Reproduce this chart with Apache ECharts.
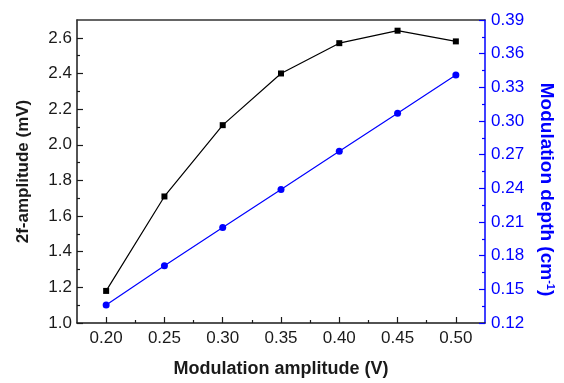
<!DOCTYPE html>
<html>
<head>
<meta charset="utf-8">
<script src="https://cdn.jsdelivr.net/npm/echarts@6/dist/echarts.min.js"></script>
<style>html,body{margin:0;padding:0;background:#fff}#c{width:564px;height:383px}</style>
</head>
<body>
<div id="c"></div>
<script>
// Data
var modAmplitude = [0.20, 0.25, 0.30, 0.35, 0.40, 0.45, 0.50];
var amp2f = [1.18, 1.71, 2.11, 2.40, 2.57, 2.64, 2.58];
var modDepth = [0.136, 0.171, 0.205, 0.239, 0.273, 0.307, 0.341];
// Tick values
var xMajorTicks = [0.20, 0.25, 0.30, 0.35, 0.40, 0.45, 0.50];
var xMinorTicks = [0.225, 0.275, 0.325, 0.375, 0.425, 0.475];
var yLeftMajorTicks = [1.0, 1.2, 1.4, 1.6, 1.8, 2.0, 2.2, 2.4, 2.6];
var yLeftMinorTicks = [1.1, 1.3, 1.5, 1.7, 1.9, 2.1, 2.3, 2.5];

var FONT = "'Liberation Sans', Arial, sans-serif";
var BLUE = '#0000ff';
var BLACK = '#1a1a1a';

var chart = echarts.init(document.getElementById('c'), null, {renderer: 'canvas'});
chart.setOption({
  animation: false,
  backgroundColor: '#fff',
  grid: {left: 77, right: 72, top: 20, bottom: 56, containLabel: false},
  xAxis: [
    {
      type: 'value', position: 'bottom', min: 0.175, max: 0.525,
      name: 'Modulation amplitude (V)', nameLocation: 'middle', nameGap: 37,
      nameTextStyle: {fontFamily: FONT, fontWeight: 'bold', fontSize: 18, color: BLACK},
      axisLine: {show: true, lineStyle: {color: BLACK, width: 1.5}},
      axisTick: {show: true, inside: true, length: 6, customValues: xMajorTicks, lineStyle: {color: BLACK, width: 1.2}},
      axisLabel: {show: true, customValues: xMajorTicks, margin: 7, fontFamily: FONT, fontSize: 17, color: BLACK,
        formatter: function (v) { return v.toFixed(2); }},
      splitLine: {show: false}
    },
    {
      type: 'value', position: 'bottom', min: 0.175, max: 0.525,
      axisLine: {show: false},
      axisTick: {show: true, inside: true, length: 3, customValues: xMinorTicks, lineStyle: {color: BLACK, width: 1.2}},
      axisLabel: {show: false},
      splitLine: {show: false}
    },
    {
      type: 'value', position: 'top', min: 0.175, max: 0.525,
      axisLine: {show: true, lineStyle: {color: '#333', width: 1.5}},
      axisTick: {show: false}, axisLabel: {show: false}, splitLine: {show: false}
    }
  ],
  yAxis: [
    {
      type: 'value', position: 'left', min: 1.0, max: 2.7,
      name: '2f-amplitude (mV)', nameLocation: 'middle', nameGap: 45,
      nameTextStyle: {fontFamily: FONT, fontWeight: 'bold', fontSize: 17, color: BLACK},
      axisLine: {show: true, lineStyle: {color: BLACK, width: 1.5}},
      axisTick: {show: true, inside: true, length: 6, customValues: yLeftMajorTicks, lineStyle: {color: BLACK, width: 1.2}},
      axisLabel: {show: true, customValues: yLeftMajorTicks, margin: 5, fontFamily: FONT, fontSize: 17, color: BLACK,
        formatter: function (v) { return v.toFixed(1); }},
      splitLine: {show: false}
    },
    {
      type: 'value', position: 'right', min: 0.12, max: 0.39, interval: 0.03,
      name: 'Modulation depth (cm{sup|-1})', nameLocation: 'middle', nameGap: 52, nameRotate: -90,
      nameTextStyle: {fontFamily: FONT, fontWeight: 'bold', fontSize: 19, color: BLUE, padding: [0, 0, 0, 36],
        rich: {sup: {fontFamily: FONT, fontWeight: 'bold', fontSize: 11, color: BLUE, verticalAlign: 'top', lineHeight: 19}}},
      axisLine: {show: true, lineStyle: {color: BLUE, width: 1.5}},
      axisTick: {show: true, inside: true, length: 6, lineStyle: {color: BLUE, width: 1.2}},
      minorTick: {show: true, splitNumber: 2, length: 3, lineStyle: {color: BLUE, width: 1.2}},
      axisLabel: {show: true, margin: 6, fontFamily: FONT, fontSize: 17, color: BLUE,
        formatter: function (v) { return v.toFixed(2); }},
      splitLine: {show: false}, minorSplitLine: {show: false}
    },
    {
      type: 'value', position: 'left', min: 1.0, max: 2.7,
      axisLine: {show: false},
      axisTick: {show: true, inside: true, length: 3, customValues: yLeftMinorTicks, lineStyle: {color: BLACK, width: 1.2}},
      axisLabel: {show: false},
      splitLine: {show: false}
    }
  ],
  series: [
    {
      name: 'Modulation depth', type: 'line', xAxisIndex: 0, yAxisIndex: 1,
      data: modAmplitude.map(function (x, i) { return [x, modDepth[i]]; }),
      symbol: 'circle', symbolSize: 7, showSymbol: true,
      itemStyle: {color: BLUE}, lineStyle: {color: BLUE, width: 1.2}
    },
    {
      name: '2f-amplitude', type: 'line', xAxisIndex: 0, yAxisIndex: 0,
      data: modAmplitude.map(function (x, i) { return [x, amp2f[i]]; }),
      symbol: 'rect', symbolSize: 6, showSymbol: true,
      itemStyle: {color: '#000'}, lineStyle: {color: '#000', width: 1.2}
    }
  ]
});
</script>
</body>
</html>
